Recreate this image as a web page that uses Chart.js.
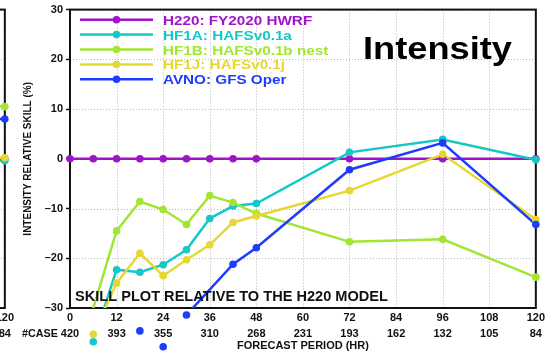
<!DOCTYPE html>
<html>
<head>
<meta charset="utf-8">
<script src="https://cdn.jsdelivr.net/npm/chart.js@4/dist/chart.umd.min.js"></script>
<style>
html, body { margin: 0; padding: 0; background: #fff; overflow: hidden; }
#wrap { position: relative; width: 547px; height: 355px; overflow: hidden; background: #fff; }
canvas { position: absolute; top: 0; }
#prev { left: -531px; }
#main { left: 0; }
</style>
</head>
<body>
<div id="wrap">
  <canvas id="prev" width="547" height="355"></canvas>
  <canvas id="main" width="547" height="355"></canvas>
</div>
<script>
// forecast hours with a verification point
const hours = [0, 6, 12, 18, 24, 30, 36, 42, 48, 72, 96, 120];
// skill relative to H220 (%)
const h220 = [0, 0, 0, 0, 0, 0, 0, 0, 0, 0, 0, 0];
const hf1a = [null, -36.8, -22.3, -22.8, -21.3, -18.3, -12.0, -9.5, -9.0, 1.3, 3.9, -0.2];
const hf1b = [-45.5, null, -14.5, -8.6, -10.2, -13.2, -7.4, -8.8, -11.0, -16.7, -16.2, -23.8];
const hf1j = [null, -35.3, -25.0, -19.0, -23.5, -20.3, -17.3, -12.8, -11.5, -6.4, 0.9, -12.2];
const avno = [null, null, null, -34.6, -37.8, -31.4, null, -21.2, -17.9, -2.2, 3.2, -13.2];

// x axis ticks and number of cases
const xTicks = [0, 12, 24, 36, 48, 60, 72, 84, 96, 108, 120];
const caseCounts = [420, 393, 355, 310, 268, 231, 193, 162, 132, 105, 84];
const yTicks = [-30, -20, -10, 0, 10, 20, 30];

// right end of the neighbouring panel (only its last point shows)
const prevHours = [96, 120];
const prevH220 = [0, 0];
const prevHf1a = [-0.4, -0.4];
const prevHf1b = [10.5, 10.5];
const prevHf1j = [0.2, 0.2];
const prevAvno = [8.0, 8.0];

const seriesNames = ['H220: FY2020 HWRF', 'HF1A: HAFSv0.1a', 'HF1B: HAFSv0.1b nest', 'HF1J: HAFSv0.1j', 'AVNO: GFS Oper'];
const seriesColors = ['rgb(160,20,200)', 'rgb(20,200,200)', 'rgb(160,230,50)', 'rgb(230,215,50)', 'rgb(30,60,255)'];

const FONT = '"Liberation Sans", Arial, sans-serif';
const MARK_R = 3.8;

function pts(xs, ys) {
    return xs.map(function (x, i) { return { x: x, y: ys[i] }; });
}

// draws text; width stretches to a target width, stretch gives a scale factor
function drawFit(ctx, text, x, y, size, width, color, stretch) {
    ctx.save();
    ctx.font = 'bold ' + size + 'px ' + FONT;
    ctx.fillStyle = color;
    ctx.textBaseline = 'alphabetic';
    ctx.textAlign = 'left';
    const w = ctx.measureText(text).width;
    const sx = width ? width / w : (stretch || 1);
    ctx.translate(x, y);
    ctx.scale(sx, 1);
    ctx.fillText(text, 0, 0);
    ctx.restore();
}

const decor = {
    id: 'decor',
    beforeDatasetsDraw(chart) {
        const a = chart.chartArea;
        const ctx = chart.ctx;
        const xs = chart.scales.x;
        const ys = chart.scales.y;
        ctx.save();
        // dotted grid
        ctx.strokeStyle = '#b8b8b8';
        ctx.lineWidth = 1;
        ctx.setLineDash([1, 2]);
        ctx.beginPath();
        xTicks.forEach(function (v) {
            const px = Math.round(xs.getPixelForValue(v)) + 0.5;
            ctx.moveTo(px, a.top);
            ctx.lineTo(px, a.bottom);
        });
        yTicks.forEach(function (v) {
            const py = Math.round(ys.getPixelForValue(v)) + 0.5;
            ctx.moveTo(a.left, py);
            ctx.lineTo(a.right, py);
        });
        ctx.stroke();
        ctx.setLineDash([]);
        ctx.strokeStyle = '#111';
        ctx.lineWidth = 2;
        ctx.strokeRect(a.left, a.top, a.right - a.left, a.bottom - a.top);
        ctx.restore();
    },
    afterDatasetsDraw(chart) {
        // markers that fall outside the axis range are still drawn, lines are not
        const ctx = chart.ctx;
        const xs = chart.scales.x;
        const ys = chart.scales.y;
        chart.data.datasets.forEach(function (ds) {
            if (ds.showLine !== false) return;
            ds.data.forEach(function (p) {
                if (p.y === null || (p.y >= ys.min && p.y <= ys.max)) return;
                ctx.save();
                ctx.fillStyle = ds.pointBackgroundColor;
                ctx.beginPath();
                ctx.arc(xs.getPixelForValue(p.x), ys.getPixelForValue(p.y), MARK_R, 0, Math.PI * 2);
                ctx.fill();
                ctx.restore();
            });
        });
    },
    afterDraw(chart) {
        if (!chart.options.plugins.decor.show) return;
        const ctx = chart.ctx;
        // legend inside the plot
        seriesNames.forEach(function (name, i) {
            const y = 19.7 + i * 14.9;
            ctx.save();
            ctx.strokeStyle = seriesColors[i];
            ctx.lineWidth = 2.5;
            ctx.beginPath();
            ctx.moveTo(80, y);
            ctx.lineTo(153, y);
            ctx.stroke();
            ctx.fillStyle = seriesColors[i];
            ctx.beginPath();
            ctx.arc(116.5, y, MARK_R, 0, Math.PI * 2);
            ctx.fill();
            ctx.restore();
            drawFit(ctx, name, 163, y + 5, 13.5, null, seriesColors[i], 1.13);
        });
        drawFit(ctx, 'Intensity', 363, 58.5, 31.5, 149, '#000');
        drawFit(ctx, 'SKILL PLOT RELATIVE TO THE H220 MODEL', 75, 300.5, 14.5, 313, '#111');
        drawFit(ctx, '#CASE', 22, 337, 11, 36, '#111');
    }
};

function makeChart(canvas, xs, series, showDecor) {
    const datasets = [];
    series.forEach(function (vals, i) {
        datasets.push({
            label: seriesNames[i],
            data: pts(xs, vals),
            borderColor: seriesColors[i],
            borderWidth: 2.5,
            pointRadius: 0,
            spanGaps: true,
            tension: 0,
            order: 20 - i
        });
        datasets.push({
            label: seriesNames[i] + ' marks',
            data: pts(xs, vals),
            showLine: false,
            pointRadius: MARK_R,
            pointBorderWidth: 0,
            pointBackgroundColor: seriesColors[i],
            clip: false,
            order: 10 - i
        });
    });

    return new Chart(canvas, {
        type: 'line',
        data: { datasets: datasets },
        plugins: [decor],
        options: {
            responsive: false,
            animation: false,
            events: [],
            layout: { padding: { left: 0, right: 8, top: 7, bottom: 0 } },
            plugins: {
                legend: { display: false },
                tooltip: { enabled: false },
                decor: { show: showDecor }
            },
            scales: {
                x: {
                    type: 'linear',
                    min: 0,
                    max: 120,
                    afterBuildTicks: function (s) { s.ticks = xTicks.map(function (v) { return { value: v }; }); },
                    afterFit: function (s) { s.height = 47; },
                    border: { display: false },
                    grid: { color: 'rgba(0,0,0,0)', drawTicks: false },
                    ticks: {
                        autoSkip: false,
                        maxRotation: 0,
                        padding: 2,
                        color: '#111',
                        font: { family: FONT, size: 11, weight: 'bold', lineHeight: '16px' },
                        callback: function (v, i) { return [String(v), String(caseCounts[i])]; }
                    },
                    title: {
                        display: true,
                        text: 'FORECAST PERIOD (HR)',
                        color: '#111',
                        font: { family: FONT, size: 11, weight: 'bold', lineHeight: 1.2 },
                        padding: { top: 0, bottom: 2 }
                    }
                },
                y: {
                    min: -30,
                    max: 30,
                    afterBuildTicks: function (s) { s.ticks = yTicks.map(function (v) { return { value: v }; }); },
                    afterFit: function (s) { s.width = 70; },
                    border: { display: false },
                    grid: { color: 'rgba(0,0,0,0)', tickLength: 4, tickColor: '#111', tickWidth: 1.5 },
                    ticks: {
                        padding: 3,
                        color: '#111',
                        font: { family: FONT, size: 11, weight: 'bold' },
                        callback: function (v) { return v < 0 ? '\u2013' + Math.abs(v) : String(v); }
                    },
                    title: {
                        display: true,
                        text: 'INTENSITY RELATIVE SKILL (%)',
                        color: '#111',
                        font: { family: FONT, size: 10, weight: 'bold', lineHeight: 1.2 },
                        padding: { top: 22, bottom: 0 }
                    }
                }
            }
        }
    });
}

makeChart(document.getElementById('prev'), prevHours, [prevH220, prevHf1a, prevHf1b, prevHf1j, prevAvno], false);
makeChart(document.getElementById('main'), hours, [h220, hf1a, hf1b, hf1j, avno], true);
</script>
</body>
</html>
